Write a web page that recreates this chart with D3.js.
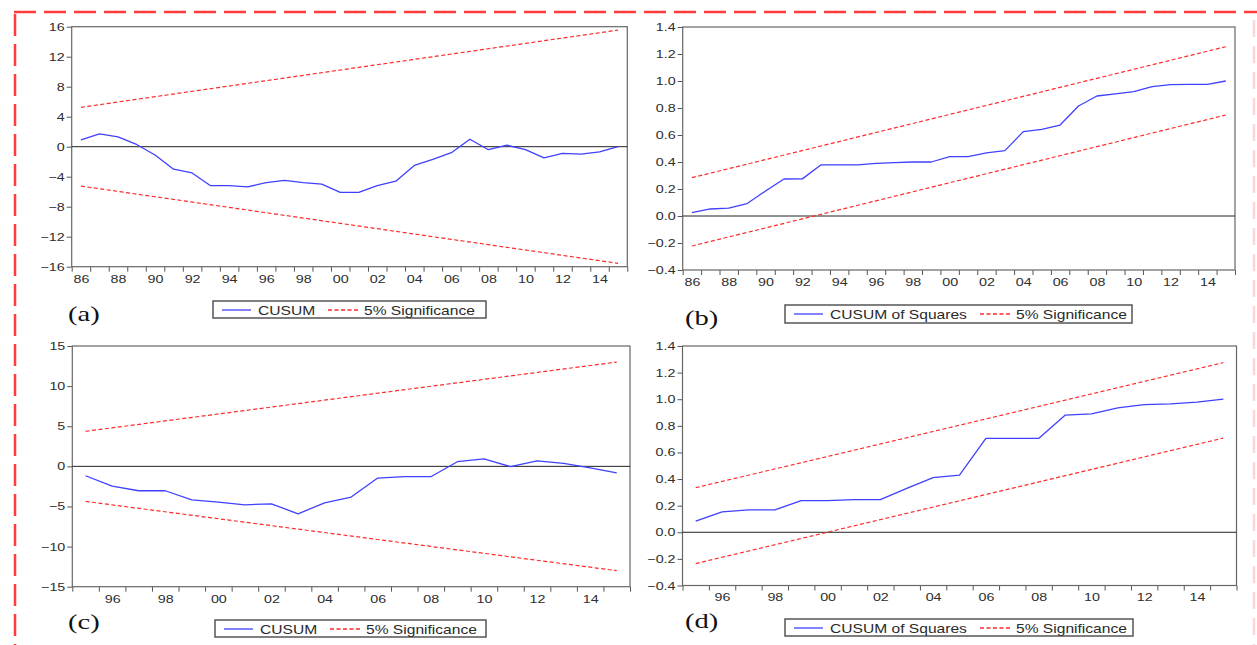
<!DOCTYPE html>
<html>
<head>
<meta charset="utf-8">
<script src="https://cdn.jsdelivr.net/npm/d3@7"></script>
<style>
  body { margin: 0; background: #fff; }
  svg { display: block; }
</style>
</head>
<body>
<script>
'use strict';

/* Data */

var yearsAB = d3.range(1986, 2016),
    yearsCD = d3.range(1995, 2016);

// (a) CUSUM, 1986-2015
var cusumA = [0.9, 1.7, 1.3, 0.3, -1.1, -3.0, -3.5, -5.2, -5.2, -5.35,
              -4.8, -4.5, -4.8, -5.0, -6.1, -6.1, -5.2, -4.6, -2.5, -1.7,
              -0.8, 1.0, -0.4, 0.2, -0.4, -1.5, -0.9, -1.0, -0.7, 0.0];

// (b) CUSUM of squares, 1986-2015
var cusumSqB = [0.025, 0.052, 0.058, 0.092, 0.185, 0.274, 0.275, 0.378, 0.378, 0.378,
                0.39, 0.395, 0.40, 0.40, 0.44, 0.44, 0.468, 0.484, 0.625, 0.642,
                0.674, 0.815, 0.889, 0.904, 0.921, 0.958, 0.973, 0.975, 0.975, 1.0];

// (c) CUSUM, 1995-2015
var cusumC = [-1.17, -2.46, -3.04, -3.04, -4.17, -4.46, -4.79, -4.67, -5.92, -4.54,
              -3.83, -1.46, -1.29, -1.29, 0.58, 0.92, -0.04, 0.67, 0.38, -0.2, -0.8];

// (d) CUSUM of squares, 1995-2015
var cusumSqD = [0.083, 0.153, 0.168, 0.168, 0.238, 0.238, 0.245, 0.245, 0.33, 0.41,
                0.43, 0.705, 0.705, 0.705, 0.88, 0.89, 0.935, 0.96, 0.965, 0.978, 1.0];

// 5% significance lines, value at first and last observation
var upperA = [5.25, 15.55],  lowerA = [-5.25, -15.55];
var upperB = [0.284, 1.254], lowerB = [-0.222, 0.748];
var upperC = [4.37, 13.0],   lowerC = [-4.37, -13.0];
var upperD = [0.335, 1.275], lowerD = [-0.235, 0.708];

var ticksA = [-16, -12, -8, -4, 0, 4, 8, 12, 16],
    ticksB = [-0.4, -0.2, 0.0, 0.2, 0.4, 0.6, 0.8, 1.0, 1.2, 1.4],
    ticksC = [-15, -10, -5, 0, 5, 10, 15],
    ticksD = ticksB;

var labelYearsAB = [1986, 1988, 1990, 1992, 1994, 1996, 1998, 2000, 2002, 2004, 2006, 2008, 2010, 2012, 2014],
    labelYearsCD = [1996, 1998, 2000, 2002, 2004, 2006, 2008, 2010, 2012, 2014];

/* Drawing */

var STRETCH = 1.3,
    BLUE = "#4040ff",
    RED = "#ff2a2a",
    FONT = "'Liberation Sans', Arial, sans-serif";

var svg = d3.select("body").append("svg")
  .attr("width", 1257)
  .attr("height", 645);

// the hand drawn red frame round the figure
svg.append("path")
  .attr("d", "M14,12H1257")
  .attr("stroke", "#ff3b3b").attr("stroke-width", 2.5)
  .attr("stroke-dasharray", "22,8").attr("fill", "none");
svg.append("path")
  .attr("d", "M15,14V645")
  .attr("stroke", "#ff3b3b").attr("stroke-width", 2.5)
  .attr("stroke-dasharray", "22,8").attr("fill", "none");
svg.append("path")
  .attr("d", "M1254,20V645")
  .attr("stroke", "#ffd6d6").attr("stroke-width", 2.5)
  .attr("stroke-dasharray", "17,9").attr("fill", "none");

var panels = [
  { years: yearsAB, values: cusumA, upper: upperA, lower: lowerA, ticks: ticksA, fmt: d3.format("d"),
    labels: labelYearsAB, left: 71.7, right: 627.3, top: 26.7, bottom: 266.7,
    name: "CUSUM", box: [213, 301, 486, 318], tag: "(a)", tagPos: [68, 321] },
  { years: yearsAB, values: cusumSqB, upper: upperB, lower: lowerB, ticks: ticksB, fmt: d3.format(".1f"),
    labels: labelYearsAB, left: 682.7, right: 1235, top: 27, bottom: 270,
    name: "CUSUM of Squares", box: [785, 305, 1132, 323], tag: "(b)", tagPos: [685, 325] },
  { years: yearsCD, values: cusumC, upper: upperC, lower: lowerC, ticks: ticksC, fmt: d3.format("d"),
    labels: labelYearsCD, left: 72.3, right: 630, top: 346, bottom: 586.7,
    name: "CUSUM", box: [215, 620, 486, 637], tag: "(c)", tagPos: [68, 629] },
  { years: yearsCD, values: cusumSqD, upper: upperD, lower: lowerD, ticks: ticksD, fmt: d3.format(".1f"),
    labels: labelYearsCD, left: 682.5, right: 1236.5, top: 346, bottom: 585.5,
    name: "CUSUM of Squares", box: [785, 619, 1133, 636], tag: "(d)", tagPos: [685, 628] }
];

function stretchText(sel) {
  sel.each(function() {
    var t = d3.select(this);
    var x = +t.attr("x") || 0, y = +t.attr("y") || 0;
    t.attr("transform", "translate(" + x + "," + y + ") scale(" + STRETCH + ",1)")
      .attr("x", 0).attr("y", 0);
  });
}

function drawPanel(p) {
  var first = p.years[0], last = p.years[p.years.length - 1];
  var x = d3.scaleLinear().domain([first - 0.5, last + 0.5]).range([p.left, p.right]);
  var y = d3.scaleLinear().domain([p.ticks[0], p.ticks[p.ticks.length - 1]]).range([p.bottom, p.top]);
  var g = svg.append("g");

  // y axis
  var ya = g.append("g")
    .attr("transform", "translate(" + p.left + ",0)")
    .call(d3.axisLeft(y).tickValues(p.ticks).tickFormat(p.fmt).tickSize(5).tickSizeOuter(0).tickPadding(2));
  ya.select(".domain").remove();
  ya.selectAll("line").attr("stroke", "#555");
  ya.selectAll("text").attr("fill", "#2e2e2e").style("font", "11px " + FONT);
  stretchText(ya.selectAll("text"));

  // x axis: ticks between years, labels centred on the years
  var bounds = p.years.map(function(d) { return d - 0.5; }).concat([last + 0.5]);
  var xt = g.append("g")
    .attr("transform", "translate(0," + p.bottom + ")")
    .call(d3.axisBottom(x).tickValues(bounds).tickFormat("").tickSize(5).tickSizeOuter(0));
  xt.select(".domain").remove();
  xt.selectAll("line").attr("stroke", "#555");

  var xl = g.append("g")
    .attr("transform", "translate(0," + p.bottom + ")")
    .call(d3.axisBottom(x).tickValues(p.labels).tickSize(0).tickPadding(8)
      .tickFormat(function(d) { return String(d % 100).padStart(2, "0"); }));
  xl.select(".domain").remove();
  xl.selectAll("text").attr("fill", "#2e2e2e").style("font", "11px " + FONT);
  stretchText(xl.selectAll("text"));

  // frame
  g.append("rect")
    .attr("x", p.left).attr("y", p.top)
    .attr("width", p.right - p.left).attr("height", p.bottom - p.top)
    .attr("fill", "none").attr("stroke", "#666").attr("stroke-width", 1.2);

  // zero line
  g.append("line")
    .attr("x1", p.left).attr("x2", p.right)
    .attr("y1", y(0)).attr("y2", y(0))
    .attr("stroke", "#222").attr("stroke-width", 1);

  var line = d3.line()
    .x(function(d) { return x(d[0]); })
    .y(function(d) { return y(d[1]); });

  [p.upper, p.lower].forEach(function(bd) {
    g.append("path")
      .datum([[first, bd[0]], [last, bd[1]]])
      .attr("d", line)
      .attr("fill", "none").attr("stroke", RED).attr("stroke-width", 1.2)
      .attr("stroke-dasharray", "4,2.5");
  });

  g.append("path")
    .datum(p.years.map(function(d, i) { return [d, p.values[i]]; }))
    .attr("d", line)
    .attr("fill", "none").attr("stroke", BLUE).attr("stroke-width", 1.3)
    .attr("stroke-linejoin", "round");

  // legend
  var box = p.box, cy = Math.round((box[1] + box[3]) / 2);
  var lg = g.append("g");
  lg.append("rect")
    .attr("x", box[0]).attr("y", box[1]).attr("width", box[2] - box[0]).attr("height", box[3] - box[1])
    .attr("fill", "#fff").attr("stroke", "#555").attr("stroke-width", 1.5);
  lg.append("line")
    .attr("x1", box[0] + 9).attr("x2", box[0] + 38).attr("y1", cy).attr("y2", cy)
    .attr("stroke", BLUE).attr("stroke-width", 1.3);
  var t1 = lg.append("text")
    .attr("x", box[0] + 45).attr("y", cy + 4.5)
    .attr("fill", "#2a2a2a").style("font", "12px " + FONT)
    .text(p.name);
  stretchText(t1);
  var w = t1.node().getBBox().width * STRETCH;
  var rx = Math.round(box[0] + 45 + w + 13);
  lg.append("line")
    .attr("x1", rx).attr("x2", rx + 30).attr("y1", cy).attr("y2", cy)
    .attr("stroke", RED).attr("stroke-width", 1.3).attr("stroke-dasharray", "4,2.5");
  var t2 = lg.append("text")
    .attr("x", rx + 36).attr("y", cy + 4.5)
    .attr("fill", "#2a2a2a").style("font", "12px " + FONT)
    .text("5% Significance");
  stretchText(t2);

  // panel tag
  var tag = g.append("text")
    .attr("x", p.tagPos[0]).attr("y", p.tagPos[1])
    .attr("fill", "#111").style("font", "22px 'Liberation Serif', 'Times New Roman', serif")
    .text(p.tag);
  stretchText(tag);
}

panels.forEach(drawPanel);
</script>
</body>
</html>
